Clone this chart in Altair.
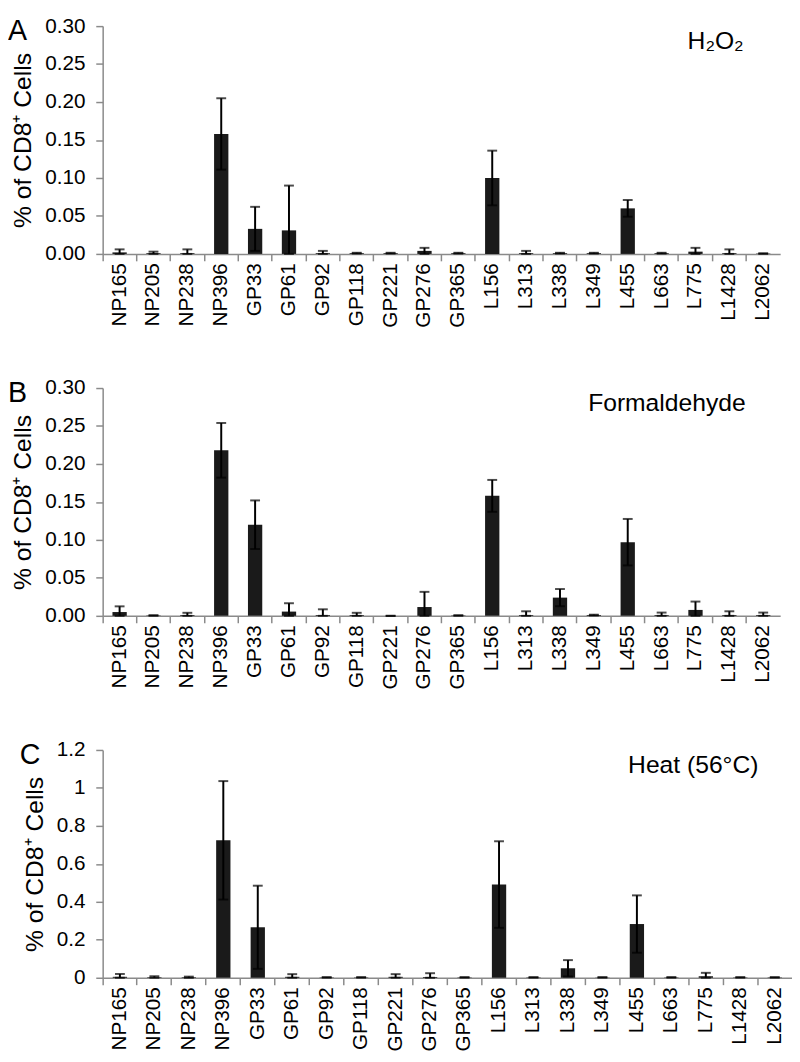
import altair as alt
import pandas as pd

cats = ["NP165", "NP205", "NP238", "NP396", "GP33", "GP61", "GP92", "GP118", "GP221",
        "GP276", "GP365", "L156", "L313", "L338", "L349", "L455", "L663", "L775",
        "L1428", "L2062"]

h2o2_mean = [0.002, 0.001, 0.001, 0.158, 0.033, 0.031, 0.001, 0.001, 0.001, 0.004,
             0.001, 0.100, 0.001, 0.001, 0.001, 0.060, 0.001, 0.003, 0.001, 0.0005]
h2o2_err = [0.004, 0.002, 0.005, 0.047, 0.029, 0.059, 0.003, 0.0005, 0.0005, 0.004,
            0.0005, 0.036, 0.003, 0.0005, 0.0005, 0.011, 0.0005, 0.005, 0.005, 0.0003]

formal_mean = [0.005, 0.0005, 0.001, 0.218, 0.120, 0.0056, 0.001, 0.001, 0.0, 0.0116,
               0.0005, 0.158, 0.001, 0.024, 0.001, 0.097, 0.001, 0.0078, 0.001, 0.001]
formal_err = [0.0075, 0.0003, 0.003, 0.036, 0.032, 0.011, 0.0076, 0.003, 0.0, 0.020,
              0.0003, 0.021, 0.005, 0.0113, 0.0005, 0.0306, 0.0033, 0.011, 0.005, 0.0033]

heat_mean = [0.005, 0.003, 0.003, 0.724, 0.266, 0.005, 0.002, 0.002, 0.005, 0.004,
             0.002, 0.491, 0.002, 0.050, 0.002, 0.283, 0.002, 0.008, 0.002, 0.002]
heat_err = [0.015, 0.005, 0.003, 0.312, 0.219, 0.014, 0.001, 0.001, 0.014, 0.020,
            0.001, 0.228, 0.001, 0.043, 0.001, 0.151, 0.001, 0.018, 0.001, 0.001]

panels = [
    ("A", "H₂O₂", h2o2_mean, h2o2_err, [0, 0.30], [0, 0.05, 0.10, 0.15, 0.20, 0.25, 0.30], ".2f"),
    ("B", "Formaldehyde", formal_mean, formal_err, [0, 0.30], [0, 0.05, 0.10, 0.15, 0.20, 0.25, 0.30], ".2f"),
    ("C", "Heat (56°C)", heat_mean, heat_err, [0, 1.2], [0, 0.2, 0.4, 0.6, 0.8, 1.0, 1.2], ".1~f"),
]

FONT = "Liberation Sans"
GRAY = "#8a8a8a"
H = 231


def panel(letter, label, mean, err, domain, ticks, fmt, width, letter_x, label_x):
    df = pd.DataFrame({
        "cat": cats,
        "val": mean,
        "lo": [max(0.0, m - e) for m, e in zip(mean, err)],
        "hi": [m + e for m, e in zip(mean, err)],
    })
    xaxis = alt.Axis(labelAngle=270, labelFontSize=21, labelFont=FONT,
                     labelColor="black", labelPadding=2, tickSize=7,
                     tickColor=GRAY, domainColor=GRAY, domainWidth=1.5,
                     tickWidth=1.5, bandPosition=0, labelOverlap=False, title=None)
    yaxis = alt.Axis(values=ticks, format=fmt, grid=False, labelFontSize=21,
                     labelFont=FONT, labelColor="black", labelPadding=11,
                     labelOverlap=False, tickSize=7, tickColor=GRAY,
                     domainColor=GRAY, domainWidth=1.5, tickWidth=1.5,
                     title="% of CD8⁺ Cells", titleFont=FONT,
                     titleFontSize=25, titleFontWeight="normal",
                     titleColor="black", titlePadding=9)
    yscale = alt.Scale(domain=domain, nice=False)
    x = alt.X("cat:N", sort=cats, scale=alt.Scale(paddingInner=0, paddingOuter=0), axis=xaxis)
    base = alt.Chart(df)
    bars = base.mark_bar(color="#1a1a1a", size=14.5).encode(
        x=x, y=alt.Y("val:Q", scale=yscale, axis=yaxis))
    rule = base.mark_rule(color="black", strokeWidth=2).encode(
        x=x, y=alt.Y("lo:Q", scale=yscale, axis=yaxis), y2="hi:Q")
    cap_hi = base.mark_tick(color="black", size=10, thickness=2).encode(
        x=x, y=alt.Y("hi:Q", scale=yscale, axis=yaxis))
    cap_lo = base.mark_tick(color="black", size=10, thickness=2).encode(
        x=x, y=alt.Y("lo:Q", scale=yscale, axis=yaxis))
    tdf = pd.DataFrame({"t": [letter], "s": [label]})
    let = alt.Chart(tdf).mark_text(font=FONT, fontSize=29, align="left",
                                   baseline="top", color="black").encode(
        text="t:N", x=alt.value(letter_x), y=alt.value(-9))
    ann = alt.Chart(tdf).mark_text(font=FONT, fontSize=25, align="right",
                                   baseline="middle", color="black").encode(
        text="s:N", x=alt.value(label_x), y=alt.value(15))
    return alt.layer(bars, rule, cap_hi, cap_lo, let, ann).properties(width=width, height=H)


pA = panel(*panels[0], width=687, letter_x=-96, label_x=650)
pB = panel(*panels[1], width=687, letter_x=-96, label_x=652)
pC = panel(*panels[2], width=699, letter_x=-84, label_x=665)

chart = alt.vconcat(pA, pB, pC, spacing=50).properties(padding=0).configure_view(stroke=None)

chart.save("out.html", embed_options={"renderer": "svg", "actions": False})
